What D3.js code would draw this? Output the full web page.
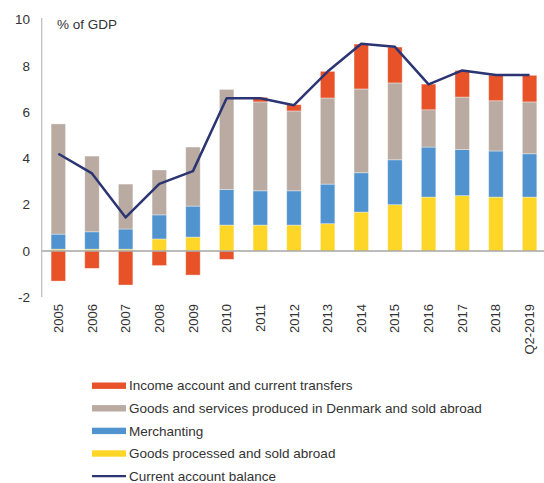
<!DOCTYPE html>
<html>
<head>
<meta charset="utf-8">
<script src="https://cdn.jsdelivr.net/npm/d3@7/dist/d3.min.js"></script>
<style>
  html, body { margin: 0; padding: 0; background: #fff; }
  svg { display: block; font-family: "Liberation Sans", Arial, sans-serif; }
</style>
</head>
<body>
<svg id="chart" width="544" height="483"></svg>
<script>
const categories = ["2005","2006","2007","2008","2009","2010","2011","2012","2013","2014","2015","2016","2017","2018","Q2-2019"];
const goodsProcessed = [0.08,0.08,0.08,0.52,0.60,1.12,1.12,1.12,1.18,1.68,2.00,2.33,2.39,2.33,2.33];
const merchanting    = [0.65,0.75,0.87,1.04,1.34,1.54,1.48,1.48,1.71,1.70,1.94,2.16,1.99,1.99,1.87];
const goodsServices  = [4.76,3.27,1.94,1.94,2.55,4.32,3.84,3.45,3.72,3.62,3.32,1.61,2.27,2.17,2.24];
const incomeAccount  = [-1.30,-0.75,-1.47,-0.63,-1.04,-0.36,0.20,0.27,1.15,1.94,1.55,1.11,1.15,1.11,1.15];
const currentAccount = [4.2,3.35,1.45,2.9,3.45,6.6,6.6,6.3,7.75,8.95,8.82,7.2,7.8,7.6,7.6];
const yTicks = [-2,0,2,4,6,8,10];

const seriesNames = ["Goods processed and sold abroad","Merchanting","Goods and services produced in Denmark and sold abroad","Income account and current transfers"];
const seriesValues = [goodsProcessed, merchanting, goodsServices, incomeAccount];
const seriesColors = ["#FDD628","#5193CF","#B9ABA2","#E85229"];
const lineColor = "#2C3573";

const svg = d3.select("#chart");
const x = d3.scaleBand().domain(categories).range([41.5, 546.4]).paddingInner(0.57).paddingOuter(0.285);
const y = d3.scaleLinear().domain([-2, 10]).range([297.3, 19.5]);

// stacked bars with separate positive/negative stacking
const rects = [];
categories.forEach((c, i) => {
  let pos = 0, neg = 0;
  seriesValues.forEach((vals, s) => {
    const v = vals[i];
    let y0, y1;
    if (v >= 0) { y0 = pos; y1 = pos + v; pos = y1; }
    else { y0 = neg; y1 = neg + v; neg = y1; }
    rects.push({c, s, y0, y1});
  });
});

svg.append("g").selectAll("rect").data(rects).join("rect")
  .attr("x", d => x(d.c))
  .attr("width", x.bandwidth())
  .attr("y", d => y(Math.max(d.y0, d.y1)))
  .attr("height", d => Math.abs(y(d.y0) - y(d.y1)))
  .attr("fill", d => seriesColors[d.s])
  .attr("stroke", "#ffffff")
  .attr("stroke-opacity", 0.45)
  .attr("stroke-width", 0.8);

// zero line
svg.append("line")
  .attr("x1", 41.7).attr("x2", 544)
  .attr("y1", y(0)).attr("y2", y(0))
  .attr("stroke", "#a6a6a6").attr("stroke-width", 1.3);

// y axis line
svg.append("line")
  .attr("x1", 41.7).attr("x2", 41.7)
  .attr("y1", 18).attr("y2", 297)
  .attr("stroke", "#bfbfbf").attr("stroke-width", 1.3);

// y tick labels
svg.append("g").selectAll("text").data(yTicks).join("text")
  .attr("x", 30).attr("y", d => y(d))
  .attr("dy", "0.35em")
  .attr("text-anchor", "end")
  .attr("font-size", 13.5)
  .attr("fill", "#333")
  .text(d => d);

// unit label
svg.append("text")
  .attr("x", 57).attr("y", 24).attr("dy", "0.35em")
  .attr("font-size", 13.5).attr("fill", "#333")
  .text("% of GDP");

// x labels rotated
svg.append("g").selectAll("text").data(categories).join("text")
  .attr("transform", d => `translate(${x(d) + x.bandwidth()/2},304) rotate(-90)`)
  .attr("text-anchor", "end")
  .attr("dy", "0.35em")
  .attr("font-size", 13)
  .attr("fill", "#333")
  .text(d => d);

// current account line
const line = d3.line()
  .x((d, i) => x(categories[i]) + x.bandwidth()/2)
  .y(d => y(d));
svg.append("path")
  .datum(currentAccount)
  .attr("d", line)
  .attr("fill", "none")
  .attr("stroke", lineColor)
  .attr("stroke-width", 2.5)
  .attr("stroke-linejoin", "round");

// legend
const legendItems = [
  {name: seriesNames[3], color: seriesColors[3], type: "bar"},
  {name: seriesNames[2], color: seriesColors[2], type: "bar"},
  {name: seriesNames[1], color: seriesColors[1], type: "bar"},
  {name: seriesNames[0], color: seriesColors[0], type: "bar"},
  {name: "Current account balance", color: lineColor, type: "line"}
];
const lg = svg.append("g");
legendItems.forEach((it, i) => {
  const cy = 385.7 + i * 22.6;
  if (it.type === "bar") {
    lg.append("rect").attr("x", 92).attr("y", cy - 3.2).attr("width", 34).attr("height", 6.4).attr("fill", it.color);
  } else {
    lg.append("line").attr("x1", 92).attr("x2", 126).attr("y1", cy).attr("y2", cy)
      .attr("stroke", it.color).attr("stroke-width", 2.2);
  }
  lg.append("text").attr("x", 129).attr("y", cy).attr("dy", "0.35em")
    .attr("font-size", 13.5).attr("fill", "#333").text(it.name);
});
</script>
</body>
</html>
